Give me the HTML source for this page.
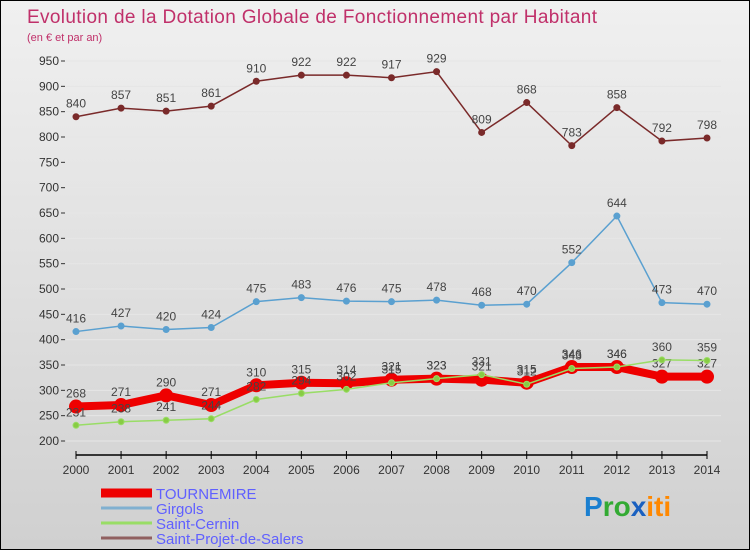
<!DOCTYPE html>
<html><head><meta charset="utf-8"><style>
body{margin:0}
#c{width:750px;height:550px;position:relative;background:linear-gradient(#f0f0f0,#d0d0d0);border:1px solid #000;box-sizing:border-box;overflow:hidden;font-family:"Liberation Sans",sans-serif}
</style></head><body>
<div id="c">
<svg id="s" width="750" height="550" style="position:absolute;left:0;top:0">
<text x="26" y="22" font-size="19" fill="#c0306a" textLength="570">Evolution de la Dotation Globale de Fonctionnement par Habitant</text>
<text x="26" y="40" font-size="11" fill="#c0306a">(en € et par an)</text>
</svg>
</div>
<script>
const years=[2000,2001,2002,2003,2004,2005,2006,2007,2008,2009,2010,2011,2012,2013,2014];
const yTicks=[200,250,300,350,400,450,500,550,600,650,700,750,800,850,900,950];
const tournemire=[268,271,290,271,310,315,314,321,323,321,315,346,346,327,327];
const girgols=[416,427,420,424,475,483,476,475,478,468,470,552,644,473,470];
const saintCernin=[231,238,241,244,282,294,302,315,323,331,312,343,346,360,359];
const saintProjet=[840,857,851,861,910,922,922,917,929,809,868,783,858,792,798];
const names=["TOURNEMIRE","Girgols","Saint-Cernin","Saint-Projet-de-Salers"];
const s=document.getElementById('s');const NS='http://www.w3.org/2000/svg';
const X=i=>75+i*(706-75)/(years.length-1);
const Y=v=>440-(v-200)*(380/750);
function mk(t,a,txt){const e=document.createElementNS(NS,t);for(const k in a)e.setAttribute(k,a[k]);if(txt!=null)e.textContent=txt;s.appendChild(e);return e;}
yTicks.forEach(v=>{
 let g=mk('line',{x1:65,x2:720,y1:Y(v),y2:Y(v),stroke:'#e6e6e6','stroke-width':1});
 
 let t=mk('text',{x:58,y:Y(v)+4,'font-size':12,fill:'#333','text-anchor':'end'},v);
 
 let m=mk('line',{x1:60,x2:64,y1:Y(v),y2:Y(v),stroke:'#333'});
 
});
let ax=mk('line',{x1:X(0),x2:X(14),y1:454,y2:454,stroke:'#000','stroke-width':1.5});

years.forEach((y,i)=>{
 let m=mk('line',{x1:X(i),x2:X(i),y1:450,y2:458,stroke:'#000'});
 
 let t=mk('text',{x:X(i),y:473,'font-size':12,fill:'#333','text-anchor':'middle'},y);
 
});
function series(d,col,w,r,fill,name){
 let p=mk('polyline',{points:d.map((v,i)=>X(i)+','+Y(v)).join(' '),fill:'none',stroke:col,'stroke-width':w});
 
 d.forEach((v,i)=>{
  let c=mk('circle',{cx:X(i),cy:Y(v),r:r,fill:fill,stroke:col,'stroke-width':1});
  
  let t=mk('text',{x:X(i),y:Y(v)-9,'font-size':12,fill:'#444','text-anchor':'middle'},v);
  
 });
}
series(saintProjet,'#7a2a2a',1.5,3,'#7a2a2a','saint-projet');
series(girgols,'#5aa0d0',1.5,3,'#5aa0d0','girgols');
series(tournemire,'#ee0000',8,6.5,'#ee0000','tournemire');
series(saintCernin,'#99dd66',1.5,3,'#88cc44','saint-cernin');
const lc=['#ee0000','#80b0d0','#99dd66','#906060'],lw=[9,3,3,3];
names.forEach((n,i)=>{
 let yy=492+i*15;
 let l=mk('line',{x1:100,x2:151,y1:yy,y2:yy,stroke:lc[i],'stroke-width':lw[i]});
 
 let t=mk('text',{x:155,y:yy+6,'font-size':15,fill:'#6060ff'},n);
 
});
let lg=mk('text',{x:583,y:515,'font-size':28,'font-weight':'bold'},'');

[['P','#1a7fd0'],['ro','#33aa33'],['x','#1a60c0'],['iti','#ff8800']].forEach(p=>{const e=document.createElementNS(NS,'tspan');e.setAttribute('fill',p[1]);e.textContent=p[0];lg.appendChild(e);});
</script>
</body></html>
